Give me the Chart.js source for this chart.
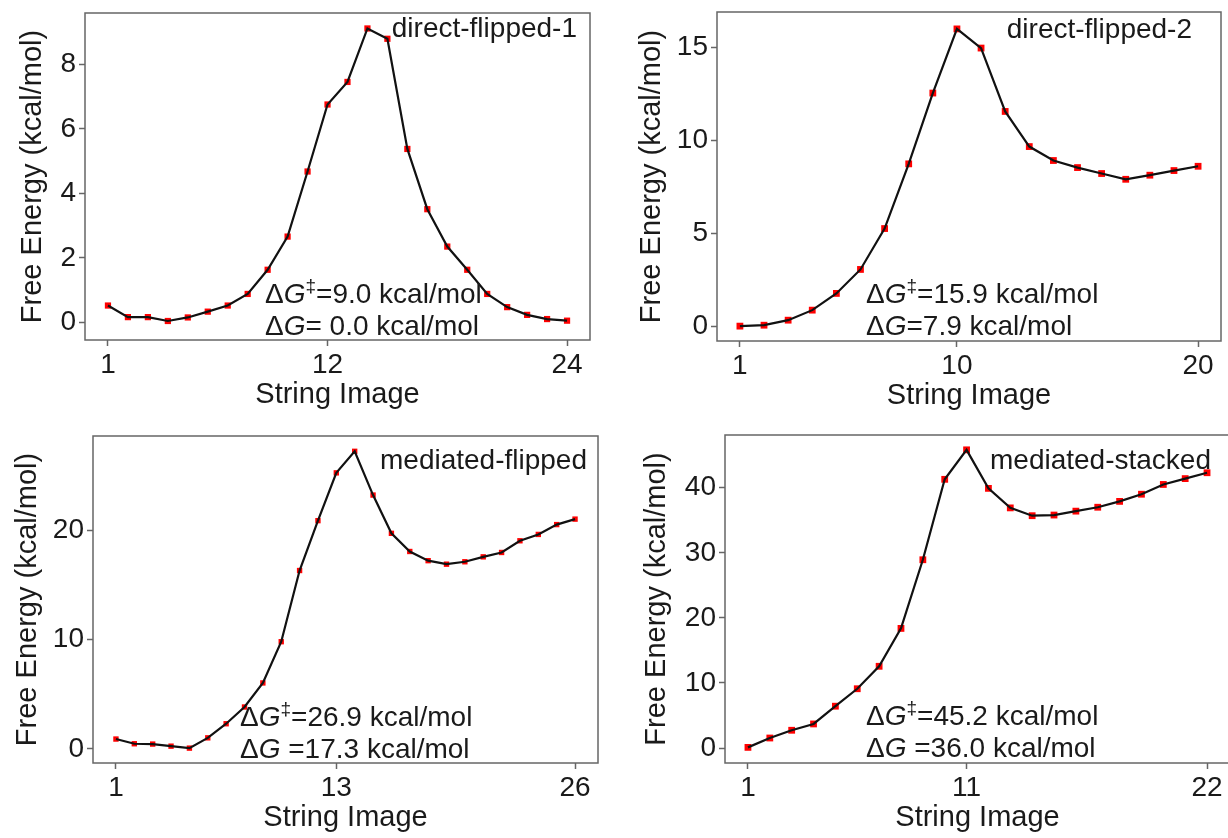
<!DOCTYPE html>
<html>
<head>
<meta charset="utf-8">
<script src="https://cdn.jsdelivr.net/npm/chart.js@4.4.0/dist/chart.umd.min.js"></script>
<style>
  html, body { margin: 0; padding: 0; background: #fff; }
  body { position: relative; width: 1228px; height: 838px; overflow: hidden; }
  canvas { position: absolute; }
</style>
</head>
<body>
<canvas id="c1"></canvas>
<canvas id="c2"></canvas>
<canvas id="c3"></canvas>
<canvas id="c4"></canvas>
<script>
// free energy along the string (kcal/mol), one value per string image
const energyDF1 = [0.52, 0.16, 0.16, 0.04, 0.15, 0.33, 0.52, 0.88, 1.63, 2.66, 4.68, 6.76,
                   7.46, 9.12, 8.80, 5.38, 3.51, 2.35, 1.63, 0.88, 0.47, 0.23, 0.10, 0.05];
const energyDF2 = [0.0, 0.05, 0.32, 0.86, 1.76, 3.05, 5.25, 8.73, 12.54, 15.99,
                   14.96, 11.55, 9.66, 8.91, 8.53, 8.21, 7.90, 8.12, 8.37, 8.60];
const energyMF = [0.89, 0.46, 0.43, 0.24, 0.06, 1.0, 2.29, 3.82, 6.02, 9.79, 16.3, 20.86, 25.23,
                  27.2, 23.2, 19.7, 18.04, 17.2, 16.88, 17.1, 17.55, 17.95, 19.02, 19.6, 20.5, 21.0];
const energyMS = [0.1, 1.54, 2.73, 3.7, 6.43, 9.11, 12.56, 18.38, 28.93, 41.29, 45.82,
                  39.9, 36.9, 35.7, 35.8, 36.4, 37.0, 37.9, 39.0, 40.5, 41.4, 42.3];

const xTicksDF1 = [1, 12, 24];
const xTicksDF2 = [1, 10, 20];
const xTicksMF = [1, 13, 26];
const xTicksMS = [1, 11, 22];
const yTicksDF1 = [0, 2, 4, 6, 8];
const yTicksDF2 = [0, 5, 10, 15];
const yTicksMF = [0, 10, 20];
const yTicksMS = [0, 10, 20, 30, 40];

const barriers = ['=9.0 kcal/mol', '=15.9 kcal/mol', '=26.9 kcal/mol', '=45.2 kcal/mol'];
const reactions = ['= 0.0 kcal/mol', '=7.9 kcal/mol', ' =17.3 kcal/mol', ' =36.0 kcal/mol'];

const FONT = "'Liberation Sans', Arial, sans-serif";
const INK = '#1a1a1a';
const YAXIS_W = 90, XAXIS_H = 72, PAD_TOP = 24, PAD_RIGHT = 12;

const panels = [
  { id: 'c1', label: 'direct-flipped-1', energy: energyDF1, xTicks: xTicksDF1, yTicks: yTicksDF1,
    x: [-0.15, 25.15], y: [-0.55, 9.6], box: { l: 85, t: 13, r: 590, b: 340 },
    yTitlePad: 21, radius: 4.4, labelAt: [577, 37], noteX: 265, noteY: [303, 335] },
  { id: 'c2', label: 'direct-flipped-2', energy: energyDF2, xTicks: xTicksDF2, yTicks: yTicksDF2,
    x: [0.05, 20.95], y: [-0.8, 16.9], box: { l: 717, t: 12, r: 1221, b: 341 },
    yTitlePad: 8, radius: 4.8, labelAt: [1192, 38], noteX: 866, noteY: [303, 335] },
  { id: 'c3', label: 'mediated-flipped', energy: energyMF, xTicks: xTicksMF, yTicks: yTicksMF,
    x: [-0.25, 27.25], y: [-1.3, 28.6], box: { l: 93, t: 436, r: 598, b: 763 },
    yTitlePad: 8, radius: 3.8, labelAt: [587, 469], noteX: 240, noteY: [726, 758] },
  { id: 'c4', label: 'mediated-stacked', energy: energyMS, xTicks: xTicksMS, yTicks: yTicksMS,
    x: [-0.05, 23.05], y: [-2.3, 48.1], box: { l: 725, t: 435, r: 1230, b: 763 },
    yTitlePad: 5, radius: 4.8, labelAt: [1211, 469], noteX: 866, noteY: [725, 757] }
];

// frame, panel name and the ΔG notes
const panelText = {
  id: 'panelText',
  afterDraw(chart, args, o) {
    const ctx = chart.ctx, ca = chart.chartArea;
    ctx.save();
    ctx.strokeStyle = '#666';
    ctx.lineWidth = 1.5;
    ctx.strokeRect(ca.left, ca.top, ca.right - ca.left, ca.bottom - ca.top);
    ctx.fillStyle = INK;
    ctx.textBaseline = 'alphabetic';
    ctx.font = '28px ' + FONT;
    ctx.textAlign = 'right';
    ctx.fillText(o.label, o.labelAt[0] - o.ox, o.labelAt[1] - o.oy);
    ctx.textAlign = 'left';
    o.notes.forEach((segs, k) => {
      let x = o.noteX - o.ox;
      const y = o.noteY[k] - o.oy;
      segs.forEach(s => {
        ctx.font = (s.italic ? 'italic ' : '') + (s.sup ? 19 : 28) + 'px ' + FONT;
        ctx.fillText(s.t, x, y - (s.sup ? 11 : 0));
        x += ctx.measureText(s.t).width;
      });
    });
    ctx.restore();
  }
};

panels.forEach((p, i) => {
  const canvas = document.getElementById(p.id);
  const left = p.box.l - YAXIS_W, top = p.box.t - PAD_TOP;
  const width = p.box.r + PAD_RIGHT - left, height = p.box.b + XAXIS_H - top;
  canvas.width = width;
  canvas.height = height;
  canvas.style.left = left + 'px';
  canvas.style.top = top + 'px';

  const points = p.energy.map((v, k) => ({ x: k + 1, y: v }));

  new Chart(canvas, {
    type: 'line',
    data: {
      datasets: [
        { data: points, borderColor: '#111', borderWidth: 2.2, pointRadius: 0, tension: 0, order: 0 },
        { data: points, showLine: false, pointStyle: 'rect', pointRadius: p.radius,
          pointBackgroundColor: '#ff0000', pointBorderWidth: 0, order: 1 }
      ]
    },
    options: {
      responsive: false,
      animation: false,
      devicePixelRatio: 1,
      layout: { padding: { top: PAD_TOP, right: PAD_RIGHT, left: 0, bottom: 0 } },
      plugins: {
        legend: { display: false },
        tooltip: { enabled: false },
        panelText: {
          label: p.label, labelAt: p.labelAt, noteX: p.noteX, noteY: p.noteY, ox: left, oy: top,
          notes: [
            [{ t: '\u0394' }, { t: 'G', italic: true }, { t: '\u2021', sup: true }, { t: barriers[i] }],
            [{ t: '\u0394' }, { t: 'G', italic: true }, { t: reactions[i] }]
          ]
        }
      },
      scales: {
        x: {
          type: 'linear', min: p.x[0], max: p.x[1],
          afterBuildTicks: s => { s.ticks = p.xTicks.map(v => ({ value: v })); },
          afterFit: s => { s.height = XAXIS_H; },
          grid: { drawOnChartArea: false, tickLength: 6, tickColor: '#666', tickWidth: 1.5 },
          border: { display: false },
          ticks: { color: INK, font: { family: FONT, size: 28 }, padding: 2, maxRotation: 0 },
          title: { display: true, text: 'String Image', color: INK,
                   font: { family: FONT, size: 29, lineHeight: 1.2 }, padding: 0 }
        },
        y: {
          min: p.y[0], max: p.y[1],
          afterBuildTicks: s => { s.ticks = p.yTicks.map(v => ({ value: v })); },
          afterFit: s => { s.width = YAXIS_W; },
          grid: { drawOnChartArea: false, tickLength: 6, tickColor: '#666', tickWidth: 1.5 },
          border: { display: false },
          ticks: { color: INK, font: { family: FONT, size: 28 }, padding: 3 },
          title: { display: true, text: 'Free Energy (kcal/mol)', color: INK,
                   font: { family: FONT, size: 29, lineHeight: 1.2 }, padding: { top: p.yTitlePad, bottom: 0 } }
        }
      }
    },
    plugins: [panelText]
  });
});
</script>
</body>
</html>
